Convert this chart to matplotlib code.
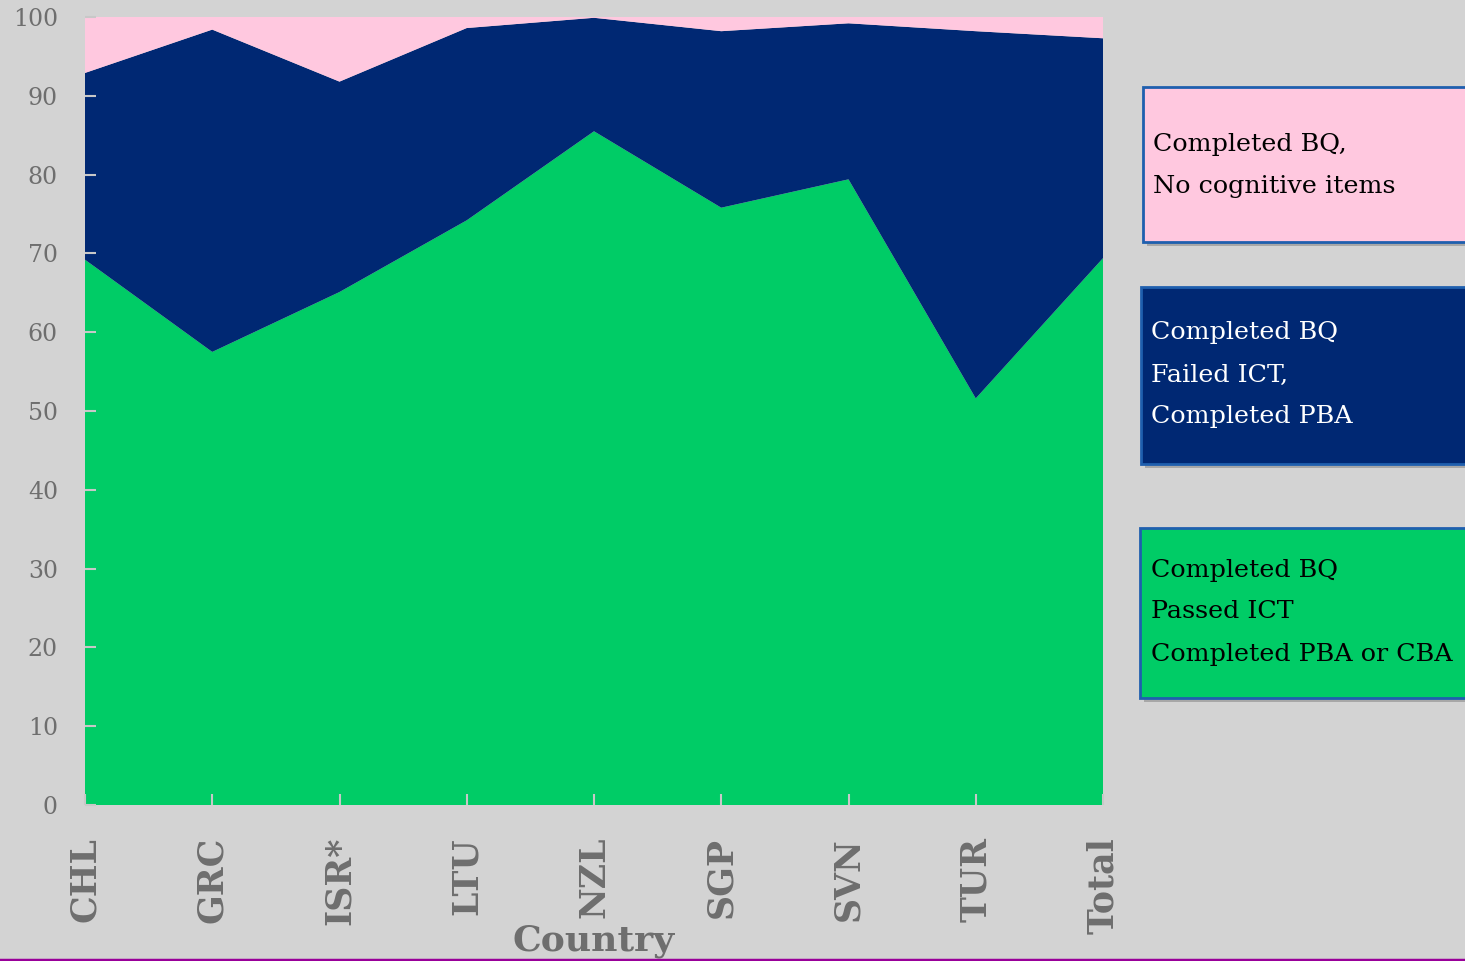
import numpy as np
import matplotlib
matplotlib.use("Agg")
import matplotlib.pyplot as plt
from matplotlib.patches import Rectangle

countries = ["CHL", "GRC", "ISR*", "LTU", "NZL", "SGP", "SVN", "TUR", "Total"]
passed_ict = [69.2, 57.5, 65.1, 74.2, 85.5, 75.8, 79.4, 51.6, 69.4]
failed_ict = [23.7, 40.9, 26.7, 24.4, 14.4, 22.4, 19.8, 46.6, 27.9]
no_cognitive = [7.1, 1.6, 8.2, 1.4, 0.1, 1.8, 0.8, 1.8, 2.7]

legend_labels = [
    "Completed BQ,\nNo cognitive items",
    "Completed BQ\nFailed ICT,\nCompleted PBA",
    "Completed BQ\nPassed ICT\nCompleted PBA or CBA",
]

GREEN = "#00cc66"
NAVY = "#002873"
PINK = "#ffc8df"
BG = "#d3d3d3"
GRAY = "#6e6e6e"
FONT = "DejaVu Serif"

W, H = 1465, 961
fig = plt.figure(figsize=(W / 100, H / 100), dpi=100, facecolor=BG)
ax = fig.add_axes([85 / W, (H - 805) / H, (1103 - 85) / W, (805 - 17) / H])
ax.set_facecolor(BG)

x = np.arange(len(countries))
ax.stackplot(x, passed_ict, failed_ict, no_cognitive,
             colors=[GREEN, NAVY, PINK], linewidth=0, antialiased=True)

ax.set_xlim(0, len(countries) - 1)
ax.set_ylim(0, 100)
ax.set_yticks(np.arange(0, 101, 10))
ax.set_xticks(x)
ax.set_xticklabels(countries, rotation=90, fontsize=25, fontweight="bold",
                   color=GRAY, family=FONT)
ax.set_yticklabels([str(v) for v in range(0, 101, 10)], fontsize=17,
                   color=GRAY, family=FONT)
ax.tick_params(axis="y", direction="in", length=8, width=1.5, color="#c8c8c8", pad=19.5)
ax.tick_params(axis="x", direction="in", length=8, width=1.5, color="#c8c8c8", pad=23)
for s in ax.spines.values():
    s.set_visible(False)

ax.set_xlabel("Country", fontsize=26, fontweight="bold", color=GRAY, family=FONT,
              labelpad=0)
ax.xaxis.set_label_coords((594 - 85) / (1103 - 85), -(941 - 805) / (805 - 17))
ax.xaxis.label.set_va("center")

# legend boxes on the right
boxes = [
    (1143, 87, 242, PINK, "black", [145, 187], 1153),
    (1141, 287, 464, NAVY, "white", [333, 375, 416], 1151),
    (1140, 528, 698, GREEN, "black", [571, 612, 654], 1151),
]
for (bx, top, bot, fc, tc, ys, tx), label in zip(boxes, legend_labels):
    h = bot - top
    shadow = Rectangle(((bx + 4) / W, (H - bot - 4) / H), (W - bx) / W, h / H,
                       transform=fig.transFigure, facecolor="#8a8a8a", edgecolor="none",
                       alpha=0.6, zorder=1)
    fig.patches.append(shadow)
    rect = Rectangle((bx / W, (H - bot) / H), (W - bx + 10) / W, h / H,
                     transform=fig.transFigure, facecolor=fc, edgecolor="#1f5fae",
                     linewidth=2, zorder=2)
    fig.patches.append(rect)
    for line, yy in zip(label.split("\n"), ys):
        fig.text(tx / W, (H - yy) / H, line, fontsize=18.3, color=tc, family=FONT,
                 va="center", ha="left", zorder=3)

# purple baseline at the bottom
fig.add_artist(plt.Line2D([0, 1], [1.5 / H, 1.5 / H], transform=fig.transFigure,
                          color="#990099", linewidth=2.5))

fig.savefig("out.png", dpi=100, facecolor=BG)
